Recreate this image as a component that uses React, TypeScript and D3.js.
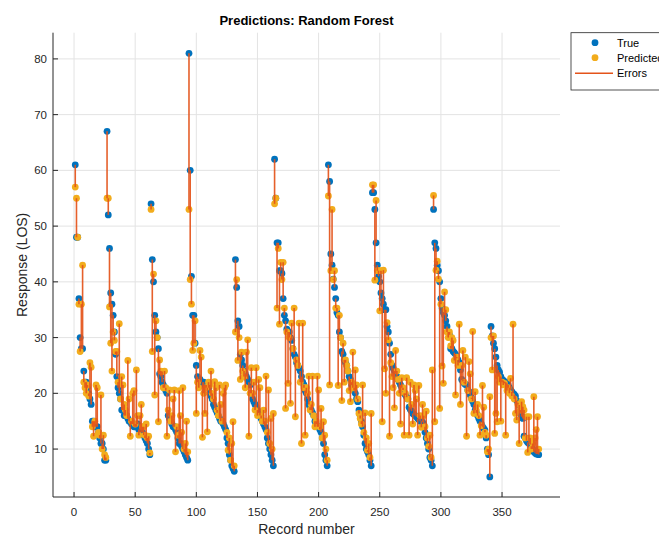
import React from 'react';
import * as d3 from 'd3';

// True response values, grouped by descending runs
const trueA = [61, 48, 48, 37, 30, 28, 28, 24, 22, 22, 21, 20, 19, 18, 15, 15, 14, 14, 14, 13, 12, 11, 11, 10, 8, 8];
const trueB = [67, 52, 46, 38, 36, 34, 31, 27, 23, 21, 20, 19, 17, 17, 16, 16, 16, 15.5, 15, 15, 14.5, 14.5, 14, 14, 14, 14.5, 13.5, 13, 13, 13, 12.5, 12, 11.5, 11, 10, 9];
const trueC = [54, 44, 40, 34, 31, 30, 28, 23.5, 23, 22, 21.5, 21, 20.5, 20, 16, 15.5, 15, 14.5, 14, 14, 13.5, 13, 12, 11, 11, 10.5, 10, 9.5, 9, 8.5, 8];
const trueD = [81, 60, 41, 34, 34, 29, 25, 23, 22.5, 22.5, 22, 22, 22, 21.5, 21.5, 21, 21, 20, 19.5, 19, 18, 17.5, 17, 16.5, 16, 15.5, 15, 15, 14.5, 14, 13.5, 12, 11, 9, 8, 7, 6.5, 6];
const trueE = [44, 39, 33, 32, 27, 26, 25, 24, 23.5, 23, 22.5, 22, 21.5, 20, 19, 18.5, 18, 17.5, 17, 16.5, 16, 15.5, 15, 14.5, 14, 13.5, 12, 11, 10, 9, 8, 7];
const trueF = [62, 55, 47, 47, 42, 42, 41.5, 37, 34, 33, 31.5, 31, 31, 30, 29.5, 28, 27, 26.5, 25.5, 25, 24.5, 24, 23, 22, 21.5, 20.5, 20, 19, 18, 17.5, 17, 16.5, 16, 15, 14.5, 14, 14, 13.5, 13, 12, 11, 9, 8, 7];
const trueG = [61, 58, 45, 43, 40.5, 39, 37, 34.5, 34, 31, 30, 27.5, 27, 26, 25.5, 25, 24, 23, 22.5, 21.5, 21, 20.5, 20, 19, 18.5, 17, 16, 15, 14, 12.5, 11, 10, 9.5, 9, 8, 7];
const trueH = [56, 56, 53, 47, 43, 41, 40, 38, 37, 36, 35, 35, 32, 31, 29, 27, 25, 24.5, 24, 23.5, 23, 22.5, 22, 21.5, 21, 20.6, 20, 19.7, 19.3, 19, 17.5, 17.1, 16.8, 16.4, 16.2, 16, 15.8, 15.5, 15.3, 15, 15, 14.8, 14.5, 13, 12, 11, 10, 8.5, 8, 7];
const trueI = [53, 47, 46, 43, 42, 40, 37, 35.3, 34.5, 34, 33, 32, 31, 30.5, 28, 28, 27.5, 27.3, 27, 26.3, 26, 25.5, 24.2, 22.5, 22.1, 21.8, 21.6, 21.5, 20.6, 20.3, 19.7, 19.2, 18.6, 18, 17, 16.5, 16, 15.5, 15, 14.5, 14, 13.7, 13.4, 12, 10, 9, 5];
const trueJ = [32, 30.3, 29, 28, 26.5, 25, 24.2, 23.8, 23, 22.5, 22.3, 22.1, 22, 21.8, 21.5, 21, 20.6, 20.3, 20, 19.8, 19.5, 18.7, 18.3, 17.9, 16.5, 15.8, 15.5, 12.3, 12, 11.5, 11.2, 11, 10.8, 10.5, 10, 9.5, 9.3, 9.1, 9.1, 9];

// Predicted values (Random Forest)
const predA = [57, 55, 48, 36, 27.5, 36, 43, 22, 21, 20, 21.5, 19.5, 25.5, 24.7, 14, 12.3, 15, 21.5, 21, 13, 12.5, 19.7, 10, 12.5, 9, 8.5];
const predB = [55, 55, 35.5, 29, 24, 31, 29.5, 27.5, 27.5, 22, 32.5, 19, 23, 21.5, 18, 17, 16, 25.9, 19, 12.3, 15, 20, 20.5, 14.5, 24.2, 16, 12.5, 16, 18, 14, 14, 12.5, 14.5, 12, 12.3, 9.3];
const predC = [53, 27.5, 41.4, 19.7, 33, 30, 14.9, 26, 24, 23.9, 21, 24, 21, 12.3, 17, 20.6, 15, 16, 19, 20.6, 9.5, 14, 12.5, 20.5, 16, 13, 21, 10, 11, 15, 9.5];
const predD = [53, 40.4, 36, 27.7, 29, 33, 16.4, 22, 21, 27.7, 26.5, 12.1, 20, 16.4, 21, 13.1, 22, 21.5, 24, 20, 19, 22.1, 21, 17, 16, 21.5, 18, 15, 20, 21, 21.5, 13, 9.8, 12, 8, 11, 14.9, 7];
const predE = [31, 40.4, 25.9, 30, 22.5, 27.4, 24, 23, 21, 27.4, 29.6, 12.3, 20, 24.6, 20, 22, 17, 24.6, 16, 22.5, 21, 16, 15, 17, 15, 23.1, 13, 20.6, 11, 15.5, 10, 16.4];
const predF = [54, 55, 35.3, 46, 32.4, 43.5, 40.4, 43.5, 35.3, 17.3, 31, 21.8, 30, 18.2, 32.6, 28, 35.3, 15.8, 26, 25, 32.6, 22, 11, 32.6, 21, 12.5, 21, 20, 23.1, 17, 18, 23.1, 16, 14, 15, 23.1, 20.6, 14, 17.3, 12, 14.9, 12.5, 10, 8];
const predG = [55.4, 21.5, 42, 53, 40.4, 42, 35.3, 35.3, 21.4, 34, 30, 18.7, 29, 22, 26, 25, 24, 20.5, 18.5, 22, 27.4, 21, 24.2, 21.5, 19, 16.4, 15.5, 14.5, 21.5, 13, 16.5, 12, 9.8, 11, 8.5, 16.4];
const predH = [57.4, 57.4, 40.3, 54.6, 42, 42, 34.8, 42, 14.9, 42.1, 24.4, 20, 32.7, 29.6, 12.3, 25.5, 23, 21, 17.4, 27.7, 24, 22.5, 20, 14.5, 22.8, 21, 12.5, 20, 22.8, 19, 12.5, 22, 18, 14.5, 21.5, 20.5, 19, 12.5, 21.4, 16, 13.9, 18, 16, 14, 16.8, 12, 10.5, 12.5, 8.5, 24.2];
const predI = [55.5, 14.9, 42.1, 43.7, 40.5, 17.3, 36, 24.9, 21.8, 38.2, 35, 31, 30, 31, 28.5, 30, 29.5, 25.9, 19.7, 26.5, 25, 32.4, 18, 25, 27.7, 22, 26.5, 12.3, 20.5, 25.7, 23.5, 19, 31.1, 16.4, 20.3, 17, 18, 16, 12.5, 14.2, 21.4, 17.5, 13, 12.5, 9.5, 10, 19.4];
const predJ = [30, 24.2, 30.3, 12.8, 16.4, 14.9, 23, 22, 15, 22, 21.5, 21.8, 12.5, 20.5, 21, 20, 22.7, 19.5, 32.4, 19, 16.4, 15.2, 18, 11, 17, 18.5, 17.6, 17, 12, 15.8, 9.4, 15.8, 12, 10, 11, 19.4, 12, 13.5, 15.8, 10];

const xTicks = [0, 50, 100, 150, 200, 250, 300, 350];
const yTicks = [10, 20, 30, 40, 50, 60, 70, 80];
const legendLabels = ['True', 'Predicted', 'Errors'];

const BLUE = '#0072BD';
const ORANGE = '#F2AC1C';
const RED = '#E4531A';
const AXIS = '#262626';
const FONT = '"Liberation Sans", Arial, Helvetica, sans-serif';

export default function App() {
  const W = 659, H = 537;
  const left = 53, right = 560, top = 32.7, bottom = 497;
  const x = d3.scaleLinear().domain([-17.2, 397.4]).range([left, right]);
  const y = d3.scaleLinear().domain([1.4, 84.7]).range([bottom, top]);

  const trueVals = [...trueA, ...trueB, ...trueC, ...trueD, ...trueE, ...trueF, ...trueG, ...trueH, ...trueI, ...trueJ];
  const predVals = [...predA, ...predB, ...predC, ...predD, ...predE, ...predF, ...predG, ...predH, ...predI, ...predJ];
  const recs = trueVals.map((t, i) => ({ r: i + 1, t, p: predVals[i] }));

  const legY = [42.7, 57.7, 73.3];
  const R = 3.4;

  return (
    <svg width={W} height={H} style={{ position: 'absolute', left: 0, top: 0, background: '#fff' }} fontFamily={FONT}>
      <rect x={0} y={0} width={W} height={H} fill="#fff" />
      {/* grid */}
      <g stroke="#e3e3e3" strokeWidth={1}>
        {xTicks.map(t => (
          <line key={'gx' + t} x1={x(t)} x2={x(t)} y1={top} y2={bottom} />
        ))}
        {yTicks.map(t => (
          <line key={'gy' + t} x1={left} x2={right} y1={y(t)} y2={y(t)} />
        ))}
      </g>
      {/* markers */}
      <g fill={BLUE}>
        {recs.map(d => <circle key={'t' + d.r} cx={x(d.r)} cy={y(d.t)} r={R} />)}
      </g>
      <g fill={ORANGE}>
        {recs.map(d => <circle key={'p' + d.r} cx={x(d.r)} cy={y(d.p)} r={R} />)}
      </g>
      {/* errors */}
      <g stroke={RED} strokeWidth={1.6} opacity={0.92}>
        {recs.map(d => (
          <line key={'e' + d.r} x1={x(d.r)} x2={x(d.r)} y1={y(d.t)} y2={y(d.p)} />
        ))}
      </g>
      {/* axes */}
      <g stroke={AXIS} strokeWidth={1}>
        <line x1={left} x2={left} y1={top} y2={bottom} />
        <line x1={left} x2={right} y1={bottom} y2={bottom} />
        {xTicks.map(t => (
          <line key={'tx' + t} x1={x(t)} x2={x(t)} y1={bottom} y2={bottom - 5} />
        ))}
        {yTicks.map(t => (
          <line key={'ty' + t} x1={left} x2={left + 5} y1={y(t)} y2={y(t)} />
        ))}
      </g>
      <g fill={AXIS} fontSize={11.5}>
        {xTicks.map(t => (
          <text key={'lx' + t} x={x(t)} y={bottom + 19} textAnchor="middle">{t}</text>
        ))}
        {yTicks.map(t => (
          <text key={'ly' + t} x={left - 6} y={y(t) + 4} textAnchor="end">{t}</text>
        ))}
      </g>
      <text x={(left + right) / 2} y={534} textAnchor="middle" fontSize={14} fill={AXIS}>Record number</text>
      <text transform={`translate(27,${(top + bottom) / 2}) rotate(-90)`} textAnchor="middle" fontSize={14} fill={AXIS}>Response (LOS)</text>
      <text x={(left + right) / 2} y={25} textAnchor="middle" fontSize={13} fontWeight="bold" fill="#000">Predictions: Random Forest</text>
      {/* legend */}
      <g>
        <rect x={571} y={32.7} width={110} height={57.3} fill="#fff" stroke={AXIS} strokeWidth={0.8} />
        <circle cx={595} cy={legY[0]} r={R} fill={BLUE} />
        <circle cx={595} cy={legY[1]} r={R} fill={ORANGE} />
        <line x1={575} x2={613} y1={legY[2]} y2={legY[2]} stroke={RED} strokeWidth={1.6} />
        {legendLabels.map((l, i) => (
          <text key={l} x={617} y={legY[i] + 4} fontSize={11} fill="#000">{l}</text>
        ))}
      </g>
    </svg>
  );
}
